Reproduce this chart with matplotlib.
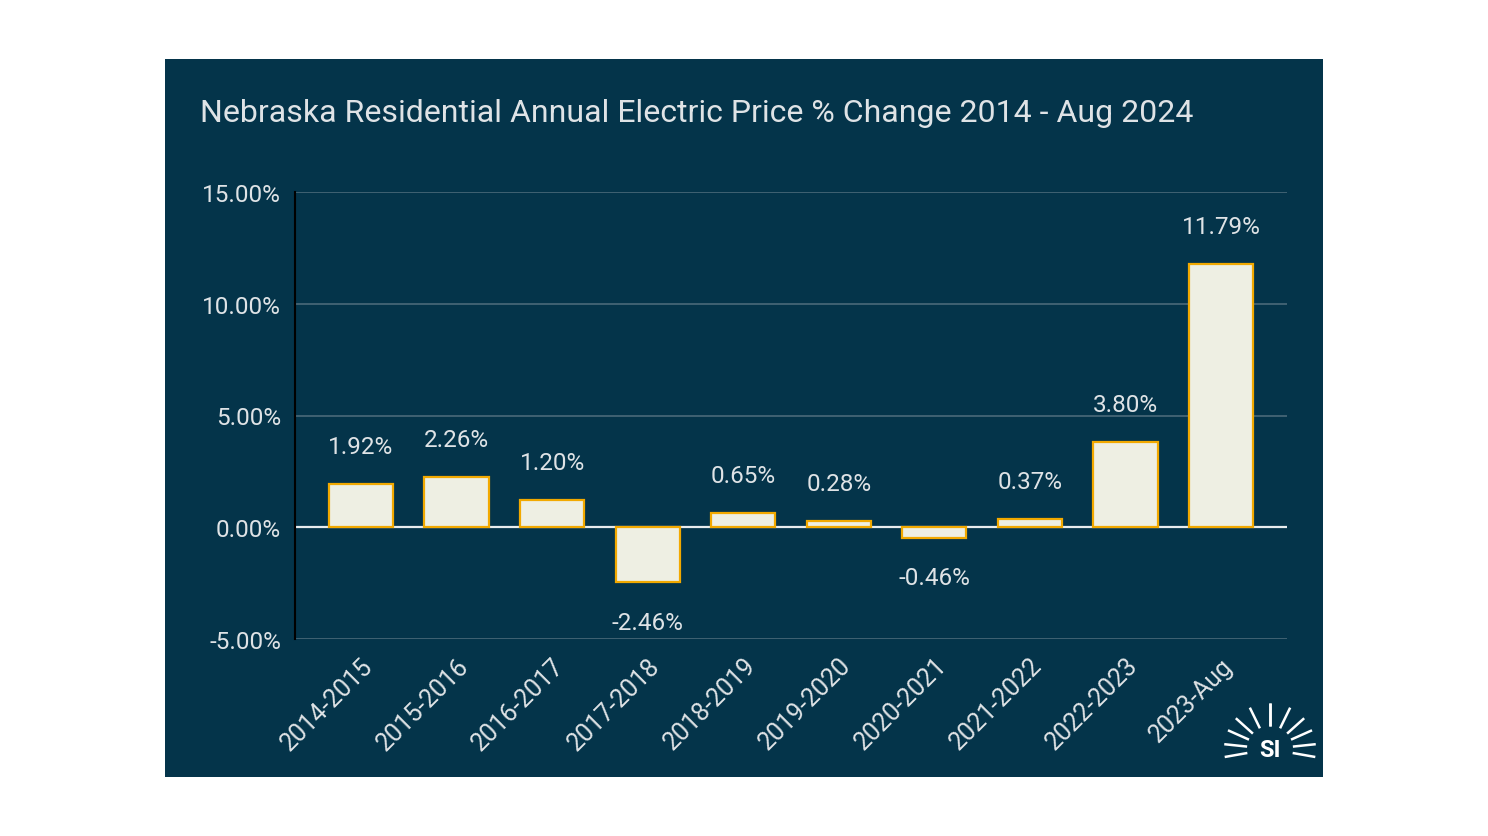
import numpy as np
import matplotlib
matplotlib.use("Agg")
from matplotlib import pyplot as plt
from matplotlib.patches import Rectangle

periods = ["2014-2015", "2015-2016", "2016-2017", "2017-2018", "2018-2019",
           "2019-2020", "2020-2021", "2021-2022", "2022-2023", "2023-Aug"]
pct_change = [1.92, 2.26, 1.20, -2.46, 0.65, 0.28, -0.46, 0.37, 3.80, 11.79]
y_ticks = [-5, 0, 5, 10, 15]

title = "Nebraska Residential Annual Electric Price % Change 2014 - Aug 2024"

bg = "#04344a"
text_col = "#dfe3e6"
bar_face = "#eeefe3"
bar_edge = "#f2a900"
grid_col = "#4a6a7a"

plt.rcParams["font.family"] = ["Roboto", "DejaVu Sans"]

W, H = 1488, 837
fig = plt.figure(figsize=(W / 100, H / 100), dpi=100)
fig.patch.set_facecolor("white")

# dark panel behind everything
bg_ax = fig.add_axes([0, 0, 1, 1], zorder=-1)
bg_ax.axis("off")
bg_ax.add_patch(Rectangle((165 / W, 1 - 778 / H), (1323 - 165) / W, (778 - 60) / H,
                          transform=fig.transFigure, facecolor=bg, edgecolor="none"))

ax = fig.add_axes([295 / W, 1 - 640 / H, (1287 - 295) / W, (640 - 193) / H])
ax.patch.set_alpha(0)

x = np.arange(len(periods))
ax.bar(x, pct_change, width=0.67, color=bar_face, edgecolor=bar_edge, linewidth=1.6, zorder=3)

for xi, v in zip(x, pct_change):
    off = 27 if v >= 0 else -29
    ax.annotate(f"{v:.2f}%", (xi, v), xytext=(0, off), textcoords="offset points",
                ha="center", va="center", color=text_col, fontsize=17.5)

ax.set_xlim(-0.69, 9.69)
ax.set_ylim(-5, 15)
ax.set_yticks(y_ticks)
ax.set_yticklabels([f"{t:.2f}%" for t in y_ticks], color=text_col, fontsize=17.5)
ax.set_xticks(x)
ax.set_xticklabels(periods, rotation=45, ha="right", rotation_mode="anchor",
                   color=text_col, fontsize=18)
ax.tick_params(axis="y", length=0, pad=10)
ax.tick_params(axis="x", length=0, pad=10)

ax.grid(axis="y", color=grid_col, linewidth=1.2, zorder=0)
ax.axhline(0, color="#e8ecee", linewidth=1.6, zorder=2)
for s in ["top", "right", "bottom"]:
    ax.spines[s].set_visible(False)
ax.spines["left"].set_color("black")
ax.spines["left"].set_linewidth(1.5)

fig.text(200 / W, 1 - 114 / H, title, color=text_col, fontsize=23,
         ha="left", va="center")

# SI logo
cx, cy = 1270, 750
for ang in [90, 64, 42, 24, 6, -10]:
    for sgn in [1, -1]:
        a = np.deg2rad(ang if sgn == 1 else 180 - ang)
        r0, r1 = 23, 46
        xs = [(cx + r0 * np.cos(a)) / W, (cx + r1 * np.cos(a)) / W]
        ys = [1 - (cy - r0 * np.sin(a)) / H, 1 - (cy - r1 * np.sin(a)) / H]
        fig.add_artist(plt.Line2D(xs, ys, color="white", linewidth=1.8,
                                  solid_capstyle="butt", transform=fig.transFigure))
fig.text(cx / W, 1 - (cy + 1) / H, "SI", color="white", fontsize=17, fontweight="bold",
         ha="center", va="center")

fig.savefig("out.png", dpi=100, facecolor=fig.get_facecolor())
